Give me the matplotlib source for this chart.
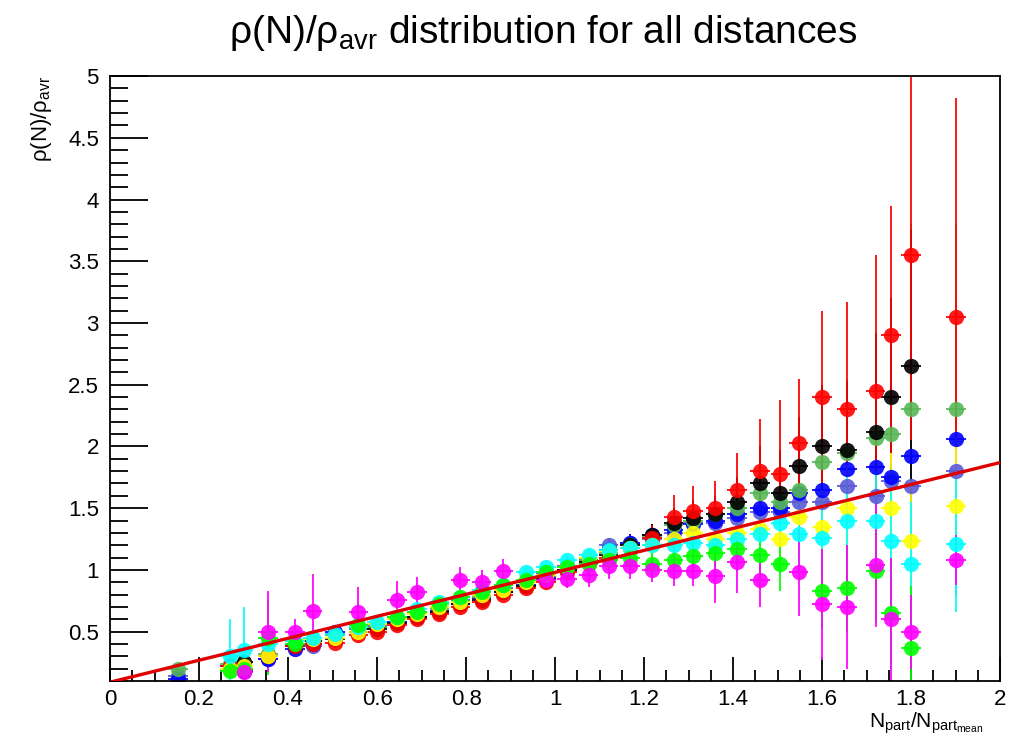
import numpy as np
import matplotlib
matplotlib.use("Agg")
import matplotlib.pyplot as plt
from matplotlib.ticker import MultipleLocator

plt.rcParams['font.family'] = ['Liberation Sans', 'DejaVu Sans']

nan = np.nan

# bin centres (N_part / N_part_mean)
x = [0.153, 0.27, 0.30, 0.355, 0.415, 0.455, 0.505, 0.558, 0.60, 0.645, 0.69, 0.74,
     0.787, 0.835, 0.884, 0.935, 0.98, 1.027, 1.075, 1.12, 1.168, 1.217, 1.266, 1.31,
     1.36, 1.408, 1.46, 1.506, 1.547, 1.60, 1.656, 1.72, 1.754, 1.80, 1.90]

slate_y = [0.14, 0.20, 0.18, 0.28, 0.38, 0.38, 0.48, 0.52, 0.55, 0.60, 0.66, 0.70, 0.76, 0.80, 0.85, 0.90, 0.97, 1.03,
           1.10, 1.20, 1.22, 1.25, 1.30, 1.38, 1.38, 1.42, 1.47, 1.47, 1.55, 1.55, 1.68, 1.60, 1.72, 1.68, 1.80]
slate_e = [0.04, 0.04, 0.04, 0.04, 0.04, 0.04, 0.04, 0.03, 0.03, 0.03, 0.03, 0.03, 0.03, 0.03, 0.03, 0.04, 0.04, 0.05,
           0.05, 0.06, 0.07, 0.08, 0.10, 0.12, 0.14, 0.15, 0.16, 0.18, 0.18, 0.20, 0.25, 0.70, 1.00, 0.30, 0.30]

blue_y = [0.12, 0.22, 0.18, 0.28, 0.36, 0.40, 0.50, 0.50, 0.54, 0.58, 0.62, 0.67, 0.72, 0.77, 0.82, 0.88, 0.94, 1.00,
          1.08, 1.16, 1.22, 1.28, 1.32, 1.37, 1.40, 1.45, 1.50, 1.50, 1.62, 1.65, 1.82, 1.83, 1.75, 1.92, 2.06]
blue_e = [0.04, 0.04, 0.04, 0.04, 0.04, 0.04, 0.04, 0.03, 0.03, 0.03, 0.03, 0.03, 0.03, 0.03, 0.03, 0.04, 0.04, 0.05,
          0.05, 0.06, 0.07, 0.09, 0.12, 0.14, 0.16, 0.20, 0.25, 0.28, 0.30, 0.35, 0.50, 0.60, 0.90, 1.10, 1.10]

green_y = [0.20, 0.24, 0.20, 0.32, 0.40, 0.42, 0.47, 0.52, 0.54, 0.60, 0.65, 0.68, 0.75, 0.78, 0.84, 0.90, 0.95, 1.00,
           1.08, 1.14, 1.20, 1.27, 1.36, 1.40, 1.45, 1.50, 1.62, 1.55, 1.65, 1.87, 1.95, 2.07, 2.10, 2.30, 2.30]
green_e = [0.04, 0.04, 0.04, 0.04, 0.04, 0.04, 0.04, 0.03, 0.03, 0.03, 0.03, 0.03, 0.03, 0.03, 0.03, 0.04, 0.04, 0.05,
           0.05, 0.06, 0.07, 0.09, 0.12, 0.14, 0.16, 0.22, 0.28, 0.35, 0.40, 0.50, 0.60, 0.75, 0.80, 1.50, 1.50]

black_y = [nan, nan, 0.25, 0.30, 0.38, 0.42, 0.44, 0.50, 0.52, 0.57, 0.62, 0.66, 0.72, 0.76, 0.82, 0.87, 0.93, 1.00,
           1.06, 1.12, 1.20, 1.28, 1.38, 1.42, 1.45, 1.55, 1.70, 1.62, 1.84, 2.00, 1.97, 2.12, 2.40, 2.65, nan]
black_e = [nan, nan, 0.04, 0.04, 0.04, 0.04, 0.04, 0.03, 0.03, 0.03, 0.03, 0.03, 0.03, 0.03, 0.03, 0.04, 0.04, 0.05,
           0.05, 0.06, 0.07, 0.09, 0.12, 0.15, 0.15, 0.20, 0.30, 0.35, 0.40, 0.50, 0.55, 0.80, 0.80, 1.10, nan]

red_y = [nan, 0.22, 0.20, 0.30, 0.38, 0.40, 0.41, 0.47, 0.50, 0.55, 0.60, 0.64, 0.70, 0.74, 0.80, 0.85, 0.90, 0.98,
         1.05, 1.10, 1.18, 1.26, 1.43, 1.48, 1.50, 1.65, 1.80, 1.78, 2.03, 2.40, 2.30, 2.45, 2.90, 3.55, 3.05]
red_e = [nan, 0.04, 0.04, 0.04, 0.04, 0.04, 0.04, 0.04, 0.03, 0.03, 0.03, 0.03, 0.03, 0.03, 0.03, 0.04, 0.04, 0.05,
         0.05, 0.06, 0.08, 0.10, 0.18, 0.20, 0.22, 0.30, 0.42, 0.60, 0.52, 0.70, 0.87, 1.10, 1.05, 1.50, 1.77]

yellow_y = [nan, 0.20, 0.22, 0.30, 0.42, 0.44, 0.45, 0.50, 0.56, 0.60, 0.64, 0.70, 0.74, 0.80, 0.84, 0.90, 0.96, 1.02,
            1.10, 1.15, 1.18, 1.20, 1.25, 1.30, 1.25, 1.30, 1.33, 1.25, 1.43, 1.35, 1.50, nan, 1.50, 1.23, 1.52]
yellow_e = [nan, 0.05, 0.05, 0.05, 0.05, 0.05, 0.04, 0.04, 0.04, 0.04, 0.04, 0.04, 0.04, 0.04, 0.04, 0.04, 0.05, 0.05,
            0.06, 0.07, 0.08, 0.10, 0.12, 0.14, 0.16, 0.18, 0.20, 0.22, 0.25, 0.30, 0.35, nan, 0.45, 0.50, 0.55]

cyan_y = [nan, 0.30, 0.35, 0.40, 0.42, 0.45, 0.48, 0.54, 0.58, 0.62, 0.68, 0.74, 0.78, 0.84, 0.88, 0.98, 1.02, 1.08,
          1.12, 1.16, 1.18, 1.20, 1.20, 1.22, 1.20, 1.25, 1.29, 1.38, 1.29, 1.26, 1.40, 1.40, 1.23, 1.05, 1.21]
cyan_e = [nan, 0.30, 0.35, 0.05, 0.05, 0.05, 0.04, 0.04, 0.04, 0.04, 0.04, 0.04, 0.04, 0.04, 0.04, 0.04, 0.05, 0.05,
          0.06, 0.07, 0.08, 0.10, 0.12, 0.14, 0.16, 0.18, 0.20, 0.22, 0.25, 0.30, 0.35, 0.40, 0.45, 0.50, 0.55]

lime_y = [nan, 0.18, 0.20, 0.45, 0.40, nan, nan, 0.55, nan, 0.62, 0.66, 0.72, 0.78, 0.82, 0.88, 0.92, 0.98, 1.02,
          1.05, 1.08, 1.10, 1.05, 1.08, 1.11, 1.14, 1.17, 1.12, 1.05, nan, 0.83, 0.85, 0.99, 0.65, 0.37, nan]
lime_e = [nan, 0.05, 0.05, 0.30, 0.05, nan, nan, 0.05, nan, 0.05, 0.05, 0.05, 0.05, 0.05, 0.05, 0.05, 0.05, 0.05,
          0.06, 0.07, 0.08, 0.10, 0.12, 0.14, 0.16, 0.18, 0.20, 0.22, nan, 0.30, 0.35, 0.40, 0.45, 0.50, nan]

magenta_y = [nan, nan, 0.17, 0.50, 0.50, 0.67, nan, 0.66, nan, 0.76, 0.82, nan, 0.92, 0.90, 0.99, nan, 0.92, 0.93,
             0.96, 1.03, 1.03, 1.00, 0.99, 0.99, 0.95, 1.06, 0.92, nan, 0.98, 0.72, 0.70, 1.04, 0.60, 0.50, 1.08]
magenta_e = [nan, nan, 0.05, 0.33, 0.10, 0.30, nan, 0.20, nan, 0.15, 0.12, nan, 0.10, 0.10, 0.10, nan, 0.08, 0.08,
             0.10, 0.10, 0.10, 0.10, 0.12, 0.12, 0.22, 0.25, 0.22, nan, 0.35, 0.45, 0.50, 0.50, 0.50, 0.30, 0.20]

series = [
    (slate_y, slate_e, '#5a5ad6'),
    (blue_y, blue_e, '#0000ff'),
    (green_y, green_e, '#55b855'),
    (black_y, black_e, '#000000'),
    (red_y, red_e, '#ff0000'),
    (yellow_y, yellow_e, '#ffff00'),
    (cyan_y, cyan_e, '#00ffff'),
    (lime_y, lime_e, '#00ff00'),
    (magenta_y, magenta_e, '#ff00ff'),
]

xticks = [0, 0.2, 0.4, 0.6, 0.8, 1.0, 1.2, 1.4, 1.6, 1.8, 2.0]
xtick_labels = ['0', '0.2', '0.4', '0.6', '0.8', '1', '1.2', '1.4', '1.6', '1.8', '2']
yticks = [0.5, 1, 1.5, 2, 2.5, 3, 3.5, 4, 4.5, 5]
ytick_labels = ['0.5', '1', '1.5', '2', '2.5', '3', '3.5', '4', '4.5', '5']

# fitted line
line_x = [0.0, 2.0]
line_y = [0.09, 1.87]

fig = plt.figure(figsize=(10.28, 7.39), dpi=100)
ax = fig.add_axes([0.107, 0.0785, 0.866, 0.8185])

for ys, es, col in series:
    ax.errorbar(x, ys, yerr=es, xerr=0.022, fmt='o', color=col, ms=11, mew=0,
                elinewidth=1.4, capsize=3.5, capthick=1.4, alpha=0.9)

ax.plot(line_x, line_y, color='#e00000', lw=2.4, zorder=10)

ax.set_xlim(0, 2)
ax.set_ylim(0.1, 5)
ax.set_xticks(xticks)
ax.set_xticklabels(xtick_labels)
ax.set_yticks(yticks)
ax.set_yticklabels(ytick_labels)
ax.xaxis.set_minor_locator(MultipleLocator(0.05))
ax.yaxis.set_minor_locator(MultipleLocator(0.1))
ax.tick_params(which='both', direction='in', top=False, right=False, labelsize=16, width=1.3)
ax.tick_params(axis='y', which='major', length=27, pad=8)
ax.tick_params(axis='y', which='minor', length=13)
ax.tick_params(axis='x', which='major', length=17, pad=6)
ax.tick_params(axis='x', which='minor', length=8)
for sp in ax.spines.values():
    sp.set_linewidth(1.3)

fig.text(0.528, 0.955, r'ρ(N)/ρ$_{\mathregular{avr}}$ distribution for all distances',
         ha='center', va='center', fontsize=28)
fig.text(0.04, 0.897, r'ρ(N)/ρ$_{\mathregular{avr}}$', rotation=90, ha='center', va='top', fontsize=16)
fig.text(0.957, 0.022, r'N$_{\mathregular{part}}$/N$_{\mathregular{part_{mean}}}$',
         ha='right', va='center', fontsize=15)

fig.savefig('out.png', dpi=100)
